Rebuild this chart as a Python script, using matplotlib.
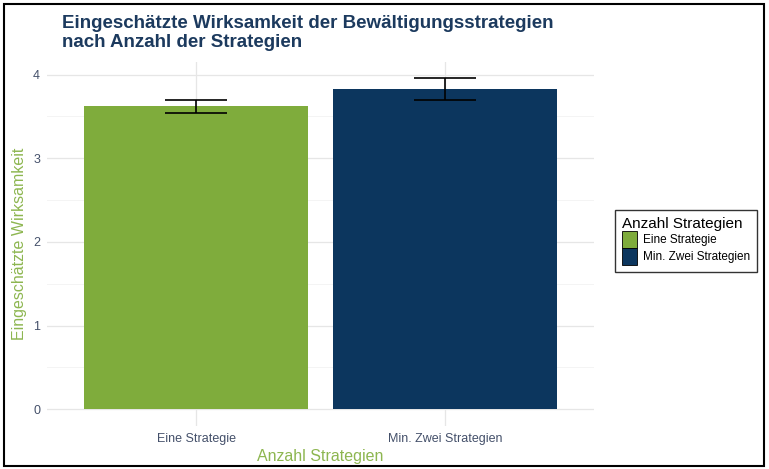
import matplotlib.pyplot as plt
from matplotlib.patches import Patch, Rectangle

plt.rcParams["font.family"] = ["Liberation Sans", "DejaVu Sans"]

# data
categories = ["Eine Strategie", "Min. Zwei Strategien"]
means = [3.62, 3.83]
errors = [0.08, 0.13]
colors = ["#7fac3c", "#0c365e"]

navy = "#1c3a5e"
green = "#8db650"

fig = plt.figure(figsize=(7.69, 4.69), dpi=100)
ax = fig.add_axes([47 / 769, 1 - 426 / 469, (594 - 47) / 769, (426 - 62) / 469])

x = range(len(categories))
ax.bar(x, means, width=0.9, color=colors, zorder=2)
ax.errorbar(x, means, yerr=errors, fmt="none", ecolor="black",
            elinewidth=1.2, capsize=22, capthick=1.2, zorder=3)

ax.set_xlim(-0.6, 1.6)
ax.set_ylim(-0.2, 4.15)
ax.set_yticks([0, 1, 2, 3, 4])
ax.set_yticks([0.5, 1.5, 2.5, 3.5], minor=True)
ax.set_xticks(list(x))
ax.set_xticklabels(categories)
ax.grid(True, which="major", color="#e6e6e6", linewidth=0.9, zorder=0)
ax.grid(True, which="minor", axis="y", color="#f2f2f2", linewidth=0.6, zorder=0)
ax.tick_params(axis="both", which="both", length=0, labelsize=9, labelcolor="#44506a")
ax.tick_params(axis="y", pad=5)
ax.tick_params(axis="x", pad=5)
for s in ax.spines.values():
    s.set_visible(False)

ax.set_ylabel("Eingeschätzte Wirksamkeit", color=green, fontsize=11.5, labelpad=4)
ax.set_xlabel("Anzahl Strategien", color=green, fontsize=11.5, labelpad=3)

fig.text(62 / 769, 1 - 33 / 469, "Eingeschätzte Wirksamkeit der Bewältigungsstrategien\nnach Anzahl der Strategien",
         fontsize=13.5, fontweight="bold", color=navy, linespacing=1.1, va="center")

handles = [Patch(facecolor=c, edgecolor="black", linewidth=0.6) for c in colors]
leg = fig.legend(handles, categories, title="Anzahl Strategien",
                 loc="center left", bbox_to_anchor=(609 / 769, 1 - 241 / 469),
                 fontsize=8.5, title_fontsize=11, frameon=True, fancybox=False,
                 edgecolor="black", handlelength=1.3, handleheight=1.8,
                 handletextpad=0.5, labelspacing=0.0, borderpad=0.6)
leg._legend_box.align = "left"
leg.get_frame().set_linewidth(1.0)

fig.patches.append(Rectangle((4 / 769, 3 / 469), 760 / 769, 462 / 469, transform=fig.transFigure,
                             fill=False, edgecolor="black", linewidth=1.5))

fig.savefig("out.png", dpi=100)
